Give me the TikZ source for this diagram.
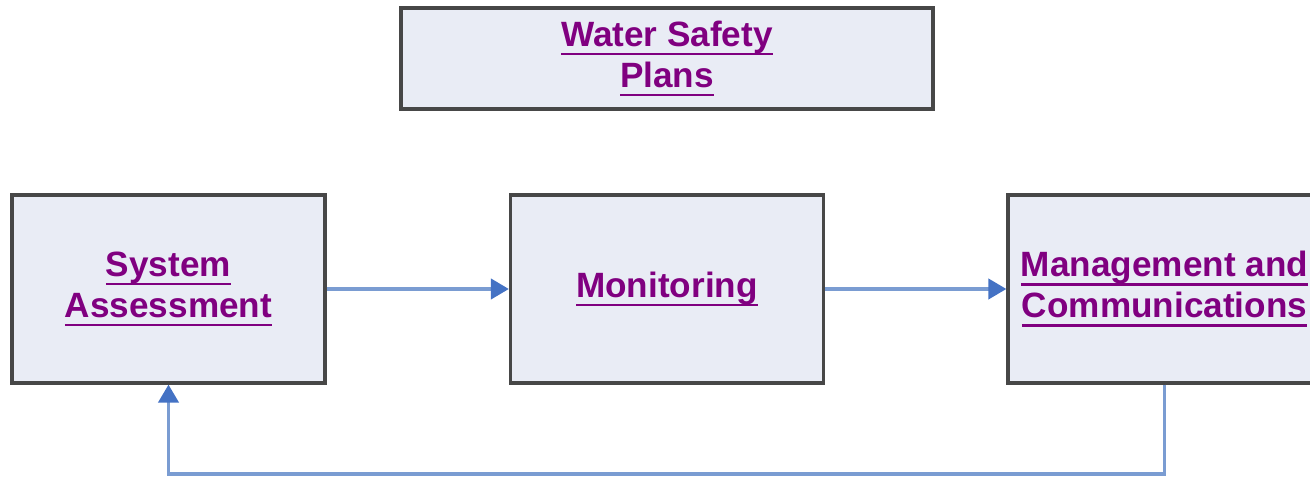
\documentclass[tikz,border=0pt]{standalone}
\usepackage{xcolor}
\usepackage{fontspec}
\setmainfont{Liberation Sans}
\usetikzlibrary{arrows.meta, positioning}

\definecolor{boxfill}{HTML}{E9ECF5}
\definecolor{boxline}{HTML}{474747}
\definecolor{linkpurple}{HTML}{800080}
\definecolor{flowline}{HTML}{7A9CD2}
\definecolor{flowhead}{HTML}{4472C4}

\newcommand{\linktext}[1]{\setbox0\hbox{#1}\rlap{\rule[-2.6pt]{\wd0}{0.75pt}}\box0}

\begin{document}
\begin{tikzpicture}[
  planbox/.style={draw=boxline, line width=0.9pt, fill=boxfill, inner sep=0pt,
    align=center, text=linkpurple,
    font=\fontsize{10}{11.6}\selectfont\bfseries},
  stagebox/.style={planbox, minimum width=3.13cm, minimum height=1.88cm},
  flow/.style={draw=flowline, line width=1.1pt,
    -{Triangle[length=0.18cm, width=0.2cm, color=flowhead]}}
]
  \useasboundingbox (0,0) rectangle (13.1,-4.77);

  % Title
  \node[planbox, minimum width=5.32cm, minimum height=1.01cm] (wsp) at (6.67,-0.585)
    {\linktext{Water Safety}\\\linktext{Plans}};

  % Stages
  \node[stagebox] (assess) at (1.685,-2.89) {\linktext{System}\\\linktext{Assessment}};
  \node[stagebox] (monitor) at (6.67,-2.89) {\linktext{Monitoring}};
  \node[stagebox] (manage) at (11.645,-2.89) {\linktext{Management and}\\\linktext{Communications}};

  % Connectors
  \draw[flow] (assess) -- (monitor);
  \draw[flow] (monitor) -- (manage);
  \coordinate (loop) at (11.645,-4.74);
  \draw[flow] (manage.south) -- (loop) -| (assess.south);
\end{tikzpicture}
\end{document}
